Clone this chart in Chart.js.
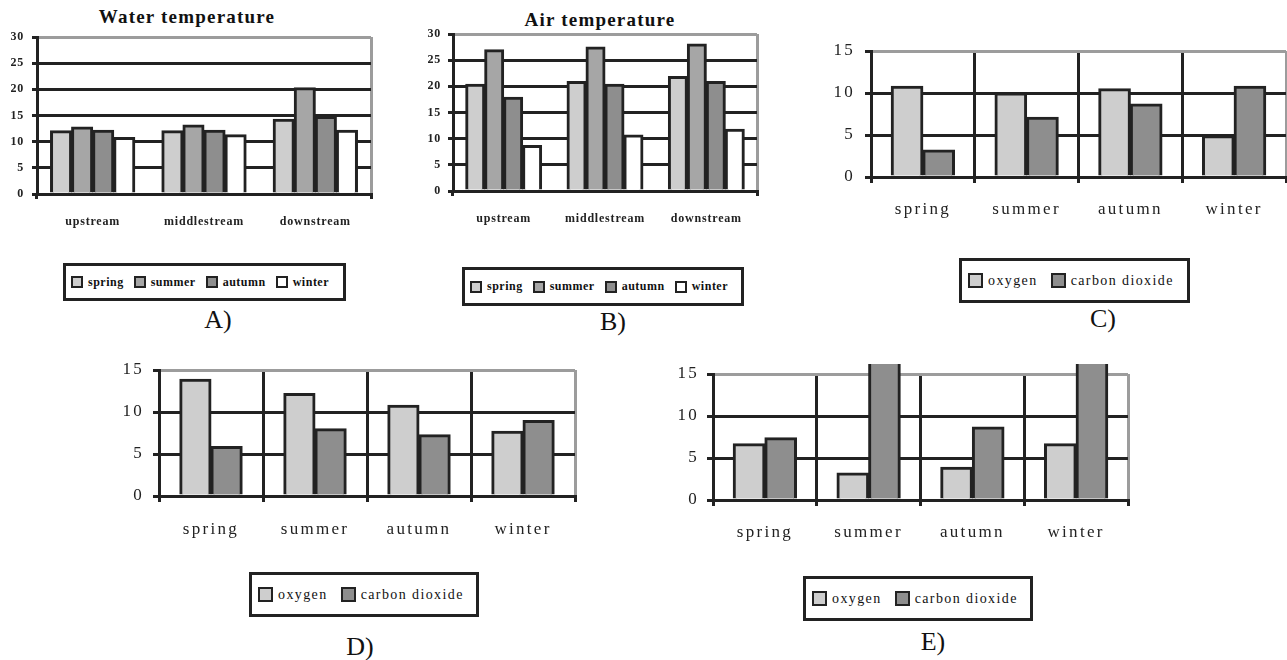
<!DOCTYPE html>
<html>
<head>
<meta charset="utf-8">
<script src="https://cdn.jsdelivr.net/npm/chart.js@4.4.1/dist/chart.umd.min.js"></script>
<style>
  body { margin: 0; background: #fff; width: 1287px; height: 660px; position: relative; overflow: hidden;
         font-family: "Liberation Serif", "Times New Roman", serif; color: #111; }
  canvas { position: absolute; display: block; }
  .title { position: absolute; font-weight: bold; font-size: 19px; letter-spacing: 1.2px; transform: translate(-50%, -50%); white-space: nowrap; }
  .tag { position: absolute; font-size: 26px; transform: translate(-50%, -50%); white-space: nowrap; }
  .legend { position: absolute; border: 3px solid #222; box-sizing: border-box; display: flex; align-items: center; white-space: nowrap; }
  .legend .sw { display: inline-block; box-sizing: border-box; border: 2px solid #222; flex: none; }
</style>
</head>
<body>
<div class="title" style="left:187px;top:17px">Water temperature</div>
<div class="title" style="left:600px;top:20px">Air temperature</div>

<canvas id="chartA"></canvas>
<canvas id="chartB"></canvas>
<canvas id="chartC"></canvas>
<canvas id="chartD"></canvas>
<canvas id="chartE"></canvas>

<div class="legend" id="legA"></div>
<div class="legend" id="legB"></div>
<div class="legend" id="legC"></div>
<div class="legend" id="legD"></div>
<div class="legend" id="legE"></div>

<div class="tag" style="left:218px;top:320px">A)</div>
<div class="tag" style="left:613px;top:322px">B)</div>
<div class="tag" style="left:1103px;top:319px">C)</div>
<div class="tag" style="left:360px;top:647px">D)</div>
<div class="tag" style="left:933px;top:642px">E)</div>

<script>
// categories
const sites = ["upstream", "middlestream", "downstream"];
const seasons = ["spring", "summer", "autumn", "winter"];
const gases = ["oxygen", "carbon dioxide"];

// tick labels
const tempTicks = [0, 5, 10, 15, 20, 25, 30];
const gasTicks = [0, 5, 10, 15];

// A) water temperature per site
const waterSpring = [12.1, 12.1, 14.3];
const waterSummer = [12.8, 13.2, 20.3];
const waterAutumn = [12.2, 12.2, 14.8];
const waterWinter = [10.8, 11.3, 12.2];

// B) air temperature per site
const airSpring = [20.4, 20.9, 21.9];
const airSummer = [27.0, 27.5, 28.1];
const airAutumn = [17.9, 20.4, 20.9];
const airWinter = [8.7, 10.7, 11.8];

// C) D) E) gases per season
const oxygenC = [10.8, 10.0, 10.5, 4.9];
const carbonC = [3.2, 7.1, 8.7, 10.8];
const oxygenD = [13.9, 12.2, 10.8, 7.7];
const carbonD = [5.9, 8.0, 7.3, 9.0];
const oxygenE = [6.7, 3.2, 3.9, 6.7];
const carbonE = [7.4, 16.2, 8.7, 16.2];

const INK = "#222";
const GRAY = "#9c9c9c";
const LINE = 3;
const seasonColors = ["#cecece", "#a6a6a6", "#8e8e8e", "#ffffff"];
const gasColors = ["#cecece", "#8e8e8e"];

const SERIF = "'Liberation Serif', 'Times New Roman', serif";

function spacing(px) {
    const set = chart => { chart.ctx.letterSpacing = px + "px"; };
    return { id: "spacing", beforeUpdate: set, beforeLayout: set, beforeDraw: set };
}

function drawPanel(id, p) {
    const canvas = document.getElementById(id);
    canvas.width = p.box[2];
    canvas.height = p.box[3];
    canvas.style.left = p.box[0] + "px";
    canvas.style.top = p.box[1] + "px";
    const yMax = p.yTicks[p.yTicks.length - 1];

    return new Chart(canvas, {
        type: "bar",
        data: {
            labels: p.labels,
            datasets: p.series.map((d, i) => ({
                label: p.names[i],
                data: d,
                backgroundColor: p.colors[i],
                borderColor: INK,
                // bars that run past the top are cut off, so no top edge there
                borderWidth: d.map(v => v > yMax ? { top: 0, left: LINE, right: LINE, bottom: 0 } : LINE),
                borderSkipped: "start",
                inflateAmount: 0.5,
                barPercentage: 1,
                categoryPercentage: p.cat,
                clip: false
            }))
        },
        options: {
            responsive: false,
            animation: false,
            events: [],
            layout: { padding: { top: p.tp, right: p.rp, left: 0, bottom: 0 } },
            plugins: { legend: { display: false }, title: { display: false }, tooltip: { enabled: false } },
            scales: {
                x: {
                    afterFit: s => { s.height = p.xH; },
                    grid: {
                        offset: true,
                        lineWidth: LINE,
                        color: ctx => ctx.type !== "tick" ? GRAY : (p.xLines ? INK : "transparent"),
                        tickColor: ctx => (p.xLines || ctx.type !== "tick" || ctx.index === 0) ? INK : "transparent",
                        tickLength: p.tl,
                        tickWidth: LINE
                    },
                    // axis line sits on top of the bar feet
                    border: { display: true, color: INK, width: LINE, z: 1 },
                    ticks: { font: p.xFont, color: INK, padding: p.xPad, maxRotation: 0, autoSkip: false }
                },
                y: {
                    min: 0,
                    max: yMax,
                    afterFit: s => { s.width = p.yW; },
                    afterBuildTicks: s => { s.ticks = p.yTicks.map(v => ({ value: v })); },
                    grid: {
                        lineWidth: LINE,
                        color: ctx => (ctx.tick && ctx.tick.value === yMax) ? GRAY : INK,
                        tickColor: INK,
                        tickLength: p.tl,
                        tickWidth: LINE
                    },
                    border: { display: true, color: INK, width: LINE, z: 1 },
                    ticks: { font: p.yFont, color: INK, padding: p.yPad }
                }
            }
        },
        plugins: [spacing(p.ls)]
    });
}

function buildLegend(id, names, colors, o) {
    const el = document.getElementById(id);
    el.style.left = o.box[0] + "px";
    el.style.top = o.box[1] + "px";
    el.style.width = o.box[2] + "px";
    el.style.height = o.box[3] + "px";
    el.style.paddingLeft = o.pad + "px";
    el.style.font = o.font;
    el.style.letterSpacing = o.ls + "px";
    names.forEach((n, i) => {
        const sw = document.createElement("span");
        sw.className = "sw";
        sw.style.width = sw.style.height = o.sw + "px";
        sw.style.background = colors[i];
        sw.style.marginRight = o.gap + "px";
        const tx = document.createElement("span");
        tx.textContent = n;
        tx.style.marginRight = o.itemGap + "px";
        el.appendChild(sw);
        el.appendChild(tx);
    });
}

const smallBold = { family: SERIF, size: 12, weight: "bold" };
const plain = { family: SERIF, size: 17 };

drawPanel("chartA", {
    box: [0, 21, 379, 213], tp: 16, rp: 8, yW: 37, xH: 40, tl: 5,
    labels: sites, names: seasons, colors: seasonColors,
    series: [waterSpring, waterSummer, waterAutumn, waterWinter],
    yTicks: tempTicks, cat: 0.757, xLines: false,
    yFont: smallBold, xFont: smallBold, yPad: 8, xPad: 16, ls: 0.8
});

drawPanel("chartB", {
    box: [413, 19, 352, 212], tp: 15, rp: 8, yW: 40, xH: 40, tl: 5,
    labels: sites, names: seasons, colors: seasonColors,
    series: [airSpring, airSummer, airAutumn, airWinter],
    yTicks: tempTicks, cat: 0.749, xLines: false,
    yFont: smallBold, xFont: smallBold, yPad: 7, xPad: 16, ls: 0.8
});

drawPanel("chartC", {
    box: [826, 30, 461, 197], tp: 21, rp: 1, yW: 45, xH: 50, tl: 6,
    labels: seasons, names: gases, colors: gasColors,
    series: [oxygenC, carbonC],
    yTicks: gasTicks, cat: 0.61, xLines: true,
    yFont: plain, xFont: plain, yPad: 10, xPad: 16, ls: 2.3
});

drawPanel("chartD", {
    box: [114, 350, 469, 196], tp: 20, rp: 8, yW: 45, xH: 50, tl: 6,
    labels: seasons, names: gases, colors: gasColors,
    series: [oxygenD, carbonD],
    yTicks: gasTicks, cat: 0.6, xLines: true,
    yFont: plain, xFont: plain, yPad: 9, xPad: 17, ls: 2.3
});

drawPanel("chartE", {
    box: [668, 355, 468, 195], tp: 19, rp: 8, yW: 45, xH: 50, tl: 6,
    labels: seasons, names: gases, colors: gasColors,
    series: [oxygenE, carbonE],
    yTicks: gasTicks, cat: 0.61, xLines: true,
    yFont: plain, xFont: plain, yPad: 8, xPad: 16, ls: 2.3
});

const boldLegend = { font: "bold 12px " + SERIF, ls: 0.5, sw: 12, gap: 5, itemGap: 10, pad: 5 };
const plainLegend = { font: "14px " + SERIF, ls: 1.4, sw: 15, gap: 5, itemGap: 13, pad: 6 };

buildLegend("legA", seasons, seasonColors, Object.assign({ box: [63, 263, 283, 38] }, boldLegend));
buildLegend("legB", seasons, seasonColors, Object.assign({ box: [462, 267, 282, 39] }, boldLegend));
buildLegend("legC", gases, gasColors, Object.assign({ box: [959, 258, 231, 45] }, plainLegend));
buildLegend("legD", gases, gasColors, Object.assign({ box: [249, 572, 230, 45] }, plainLegend));
buildLegend("legE", gases, gasColors, Object.assign({ box: [803, 576, 230, 45] }, plainLegend));
</script>
</body>
</html>
